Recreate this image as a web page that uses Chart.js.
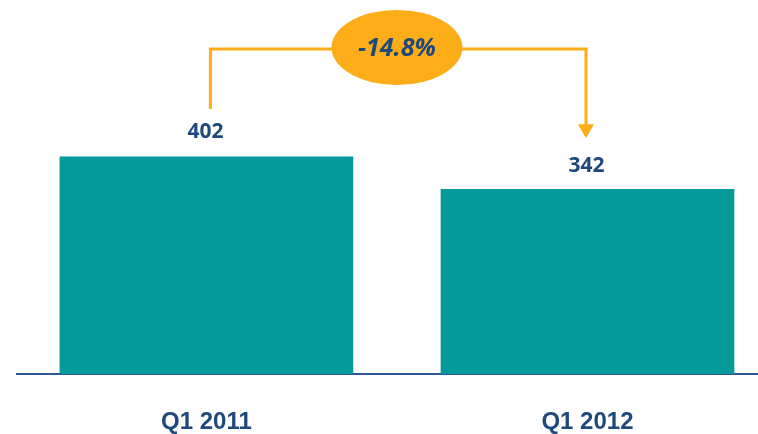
<!DOCTYPE html>
<html>
<head>
<meta charset="utf-8">
<script src="https://cdn.jsdelivr.net/npm/chart.js@4/dist/chart.umd.min.js"></script>
<style>
  html, body { margin: 0; padding: 0; background: #ffffff; }
  #wrap { width: 758px; height: 434px; position: relative; }
</style>
</head>
<body>
<div id="wrap"><canvas id="c" width="758" height="434"></canvas></div>
<script>
const categories = ["Q1 2011", "Q1 2012"];
const values = [402, 342];
const changeLabel = "-14.8%";

const TEAL = "#039a99";
const NAVY = "#1f497d";
const ORANGE = "#fdad17";

const annotationPlugin = {
  id: "annot",
  afterDatasetsDraw(chart) {
    const ctx = chart.ctx;
    const xs = chart.scales.x, ys = chart.scales.y;
    const x0 = xs.getPixelForValue(0), x1 = xs.getPixelForValue(1);
    const y0 = ys.getPixelForValue(values[0]), y1 = ys.getPixelForValue(values[1]);

    // value labels
    ctx.save();
    ctx.fillStyle = NAVY;
    ctx.font = "700 21px 'Open Sans'";
    ctx.textAlign = "center";
    ctx.textBaseline = "alphabetic";
    ctx.fillText(String(values[0]), x0 - 1, y0 - 19);
    ctx.fillText(String(values[1]), x1 - 1, y1 - 17);
    ctx.restore();

    // connector
    const lx = x0 + 4, rx = x1 - 1.5, topY = 49;
    const startY = y0 - 48, tipY = y1 - 51, headH = 14, headW = 8;
    ctx.save();
    ctx.strokeStyle = ORANGE;
    ctx.lineWidth = 3;
    ctx.lineJoin = "miter";
    ctx.beginPath();
    ctx.moveTo(lx, startY);
    ctx.lineTo(lx, topY);
    ctx.lineTo(rx, topY);
    ctx.lineTo(rx, tipY - headH + 1);
    ctx.stroke();
    ctx.fillStyle = ORANGE;
    ctx.beginPath();
    ctx.moveTo(rx - headW, tipY - headH);
    ctx.lineTo(rx + headW, tipY - headH);
    ctx.lineTo(rx, tipY);
    ctx.closePath();
    ctx.fill();

    // ellipse
    const cx = (x0 + x1) / 2, cy = 47.5;
    ctx.beginPath();
    ctx.ellipse(cx, cy, 65.5, 37.5, 0, 0, Math.PI * 2);
    ctx.fill();
    ctx.fillStyle = NAVY;
    ctx.font = "italic 700 25px 'Open Sans'";
    ctx.textAlign = "center";
    ctx.textBaseline = "middle";
    ctx.fillText(changeLabel, cx, cy + 1);
    ctx.restore();
  }
};

new Chart(document.getElementById("c"), {
  type: "bar",
  data: {
    datasets: [{
      data: values.map((v, i) => ({ x: i, y: v })),
      backgroundColor: TEAL,
      borderWidth: 0,
      barThickness: 293
    }]
  },
  options: {
    responsive: false,
    animation: false,
    events: [],
    layout: { padding: { left: 17, right: 0, top: 23, bottom: 0 } },
    plugins: { legend: { display: false }, tooltip: { enabled: false } },
    scales: {
      x: {
        type: "linear",
        offset: false,
        bounds: "data",
        min: -0.497,
        max: 1.4475,
        afterBuildTicks: (scale) => { scale.ticks = categories.map((_, i) => ({ value: i })); },
        afterFit: (scale) => { scale.height = 60; },
        grid: { display: false, drawTicks: false, offset: false },
        border: { display: true, color: "#2f5597", width: 2 },
        ticks: {
          padding: 34,
          maxRotation: 0,
          autoSkip: false,
          color: NAVY,
          font: { family: "'Liberation Sans', Arial, sans-serif", weight: "bold", size: 24 },
          callback: (v) => categories[v] ?? ""
        }
      },
      y: {
        display: false,
        min: 0,
        max: 650
      }
    }
  },
  plugins: [annotationPlugin]
});
</script>
</body>
</html>
